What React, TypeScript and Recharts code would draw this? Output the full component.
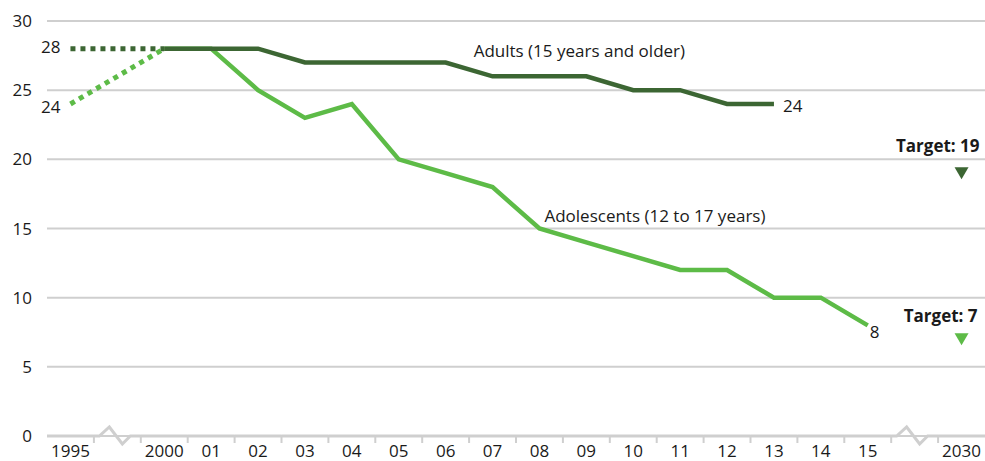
import React from "react"
import { CartesianGrid, ComposedChart, Line, XAxis, YAxis } from "recharts"

const categories = [
  "1995", "break1", "2000", "01", "02", "03", "04", "05", "06", "07",
  "08", "09", "10", "11", "12", "13", "14", "15", "break2", "2030",
]
const adults = [null, null, 28, 28, 28, 27, 27, 27, 27, 26, 26, 26, 25, 25, 24, 24, null, null, null, null]
const adultsEarly = [28, null, 28, null, null, null, null, null, null, null, null, null, null, null, null, null, null, null, null, null]
const adolescents = [null, null, 28, 28, 25, 23, 24, 20, 19, 18, 15, 14, 13, 12, 12, 10, 10, 8, null, null]
const adolescentsEarly = [24, null, 28, null, null, null, null, null, null, null, null, null, null, null, null, null, null, null, null, null]
const adultsTarget = [null, null, null, null, null, null, null, null, null, null, null, null, null, null, null, null, null, null, null, 19]
const adolescentsTarget = [null, null, null, null, null, null, null, null, null, null, null, null, null, null, null, null, null, null, null, 7]
const yTicks = [0, 5, 10, 15, 20, 25, 30]

const adultsName = "Adults (15 years and older)"
const adolescentsName = "Adolescents (12 to 17 years)"

const data = categories.map((cat, i) => ({
  cat,
  adults: adults[i],
  adultsEarly: adultsEarly[i],
  adolescents: adolescents[i],
  adolescentsEarly: adolescentsEarly[i],
  adultsTarget: adultsTarget[i],
  adolescentsTarget: adolescentsTarget[i],
}))

const W = 985
const H = 461
const Y_W = 47
const BAND = (W - Y_W) / categories.length
const DARK = "#3c6633"
const LIGHT = "#5dbb47"
const GRID = "#cfcfcf"
const TEXT = "#1a1a1a"
const FONT = "'Open Sans', sans-serif"
const FS = 17

function XTick(props: any) {
  const { x, y, payload, index } = props
  const cat = String(payload.value)
  const half = BAND / 2
  const isBreak = cat.startsWith("break")
  return (
    <g>
      {isBreak ? (
        <polyline
          points={`${x - half},${y} ${x - 18},${y} ${x - 8},${y - 9} ${x + 5},${y + 8} ${x + 13},${y} ${x + half},${y}`}
          fill="none"
          stroke={GRID}
          strokeWidth={3}
        />
      ) : (
        <line x1={x - half} x2={x + half} y1={y} y2={y} stroke={GRID} strokeWidth={3} />
      )}
      {index > 0 && <line x1={x - half} x2={x - half} y1={y} y2={y + 7} stroke={GRID} strokeWidth={2} />}
      {!isBreak && (
        <text x={x} y={y + 21} textAnchor="middle" fill={TEXT} fontSize={FS} fontFamily={FONT}>
          {cat}
        </text>
      )}
    </g>
  )
}

function Triangle(color: string) {
  return (props: any) => {
    const { cx, cy, index } = props
    if (cx == null || cy == null) return <g key={index} />
    return <polygon key={index} points={`${cx - 7},${cy - 6} ${cx + 7},${cy - 6} ${cx},${cy + 6}`} fill={color} />
  }
}

const textProps = { fill: TEXT, fontSize: FS, fontFamily: FONT }

export default function App() {
  return (
    <div style={{ position: "absolute", left: 0, top: 0, background: "#fff" }}>
      <ComposedChart width={W} height={H} data={data} margin={{ top: 21, right: 0, bottom: 0, left: 0 }}>
        <CartesianGrid vertical={false} stroke={GRID} strokeWidth={2} />
        <XAxis
          dataKey="cat"
          height={25}
          padding={{ left: BAND / 2, right: BAND / 2 }}
          axisLine={false}
          tickLine={false}
          tickSize={0}
          tickMargin={0}
          interval={0}
          tick={<XTick />}
        />
        <YAxis
          width={Y_W}
          domain={[0, 30]}
          ticks={yTicks}
          axisLine={false}
          tickLine={false}
          tickSize={0}
          tickMargin={15}
          tick={{ fill: TEXT, fontSize: FS, fontFamily: FONT }}
        />
        <Line
          dataKey="adultsEarly"
          stroke={DARK}
          strokeWidth={5}
          strokeDasharray="5 5"
          connectNulls
          dot={false}
          isAnimationActive={false}
          label={(p: any) =>
            p.index === 0 ? (
              <text key="l" x={p.x - 10} y={p.y + 4} textAnchor="end" {...textProps}>
                {p.value}
              </text>
            ) : null
          }
        />
        <Line
          dataKey="adolescentsEarly"
          stroke={LIGHT}
          strokeWidth={5}
          strokeDasharray="5 5"
          connectNulls
          dot={false}
          isAnimationActive={false}
          label={(p: any) =>
            p.index === 0 ? (
              <text key="l" x={p.x - 10} y={p.y + 9} textAnchor="end" {...textProps}>
                {p.value}
              </text>
            ) : null
          }
        />
        <Line
          dataKey="adolescents"
          stroke={LIGHT}
          strokeWidth={4.5}
          dot={false}
          isAnimationActive={false}
          label={(p: any) => {
            if (p.index === 10)
              return (
                <text key="n" x={p.x + 5} y={p.y - 7} {...textProps}>
                  {adolescentsName}
                </text>
              )
            if (p.index === 17)
              return (
                <text key="e" x={p.x + 2} y={p.y + 13} {...textProps}>
                  {p.value}
                </text>
              )
            return null
          }}
        />
        <Line
          dataKey="adults"
          stroke={DARK}
          strokeWidth={4.5}
          dot={false}
          isAnimationActive={false}
          label={(p: any) => {
            if (p.index === 11)
              return (
                <text key="n" x={p.x - 7} y={p.y - 19} textAnchor="middle" {...textProps}>
                  {adultsName}
                </text>
              )
            if (p.index === 15)
              return (
                <text key="e" x={p.x + 9} y={p.y + 8} {...textProps}>
                  {p.value}
                </text>
              )
            return null
          }}
        />
        <Line
          dataKey="adultsTarget"
          stroke="none"
          dot={Triangle(DARK)}
          isAnimationActive={false}
          label={(p: any) =>
            p.index === 19 ? (
              <text key="t" x={p.x + 18} y={p.y - 21} textAnchor="end" fontWeight="bold" {...textProps}>
                {`Target: ${p.value}`}
              </text>
            ) : null
          }
        />
        <Line
          dataKey="adolescentsTarget"
          stroke="none"
          dot={Triangle(LIGHT)}
          isAnimationActive={false}
          label={(p: any) =>
            p.index === 19 ? (
              <text key="t" x={p.x + 16} y={p.y - 17} textAnchor="end" fontWeight="bold" {...textProps}>
                {`Target: ${p.value}`}
              </text>
            ) : null
          }
        />
      </ComposedChart>
    </div>
  )
}
